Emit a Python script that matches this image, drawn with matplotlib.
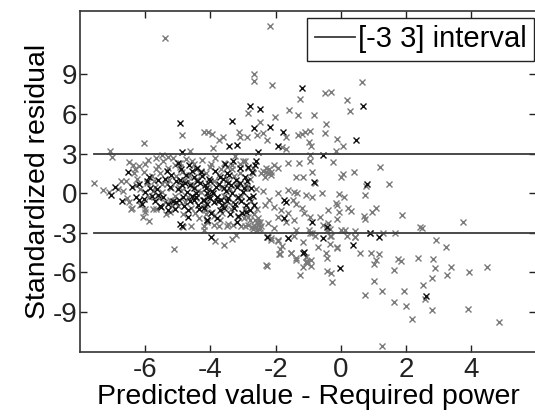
import matplotlib
matplotlib.use("Agg")
import matplotlib.pyplot as plt
import numpy as np

plt.rcParams["font.family"] = ["Liberation Sans", "DejaVu Sans"]
plt.rcParams["axes.unicode_minus"] = False

# residuals drawn in gray
gray_x = [
    -2.18, -5.41, -2.66, -2.66, -2.10, -0.49, -0.31, 0.64, -1.24, 0.19, 0.27, -2.85,
    -1.59, -1.32, -0.82, -2.01, -4.86, -2.49, -0.44, -0.47, -6.03, -2.56, -2.38, -2.25,
    -1.68, -1.32, -1.20, -1.09, -0.93, -0.97, -0.90, -4.19, -4.08, -3.94, -3.74, -3.61,
    -3.12, -3.09, -2.87, -1.81, -1.67, -3.92, -4.64, -7.09, -7.03, -7.57,
    # around zero
    -0.10, 0.06, -0.15, -0.25, 1.21, 0.08, 0.01, 0.41, 1.47, 0.76, -0.04, 0.11,
    -0.14, -0.12, -0.40, -0.04, 0.23, 0.33, 1.09, 0.95, 0.73, 0.76, 1.87, -0.12,
    -0.40, 0.00, 0.14, -0.31, 0.18, 2.43, 3.76, 0.78, -0.32, 0.43, 2.49,
    -2.94, -2.86, -2.04, -1.94, -2.14, -1.63, -1.28, -0.93, -0.93, -1.38, -1.15, -0.88,
    -0.78, -1.63, -1.43, -1.33, -1.94, -1.48, -1.38, -1.08, -0.88, -0.58, -2.19, -2.34,
    -2.04, -1.83, -1.63, -1.94, -1.68, -1.43, -2.54, -2.74, -2.49, -2.24, -2.04, -1.18,
    -1.13, -0.93, -0.63, -0.53, -0.43, -1.38, -0.98, -0.93, -0.80,
    # below -3
    1.67, 1.29, 0.90, 0.45, 0.59, 0.93, 1.18, 1.07, 1.02, 1.75, 1.84, 1.65,
    2.37, 2.94, 3.23, 2.82, 2.89, 3.40, 3.27, 3.94, 4.48, 2.80, 2.54, 1.03,
    1.28, 0.74, 1.95, 1.63, 1.99, 2.58, 2.81, 3.92, 2.18, 4.87, 1.26,
    -2.27, -1.25, -1.16, -1.04, -0.91, -0.92, -1.08, -1.04, -1.38, -1.53, -1.90, -1.87,
    -1.79, -1.94, -2.14, -0.44, -0.41, -0.42, -0.29, -0.28, -0.10, -0.34, -0.69,
    -2.24, -2.14, -1.94, -1.63, -1.43, -1.15, -0.88, -0.32, -0.10, 0.43, -1.88, -1.53,
    -1.38, -1.08, -2.29,
    -5.12, -3.85, -3.59, -3.34, -3.23, -4.21, -4.85,
    # dense block on the left
    -7.29, -7.12, -6.49, -6.39, -6.32, -6.21, -6.00, -5.66, -5.61, -6.45, -6.02, -5.76,
    -5.66, -6.06, -5.88, -6.42, -6.85, -6.70, -6.60, -6.30, -6.25, -6.15, -5.95, -5.90,
    -5.80, -5.70, -5.55, -5.50, -5.45, -5.40, -5.35, -5.30, -5.25, -5.20, -5.15, -5.10,
    -5.05, -5.00, -4.95, -4.90, -4.85, -4.80, -4.75, -4.70, -4.65, -4.60, -4.55, -4.50,
    -4.45, -4.40, -4.35, -4.30, -4.25, -4.20, -4.15, -4.10, -4.05, -4.00, -3.95, -3.90,
    -3.85, -3.80, -3.75, -3.70, -3.65, -3.60, -3.55, -3.50, -3.45, -3.40, -3.35, -3.30,
    -3.25, -3.20, -3.15, -3.10, -3.05, -3.00, -2.95, -2.90, -2.85, -2.80, -2.75, -2.70,
    -2.65, -2.60, -2.55, -2.60, -2.65, -2.50, -2.55, -2.45, -2.40, -2.30, -2.20, -2.15,
    -4.60, -4.20, -3.90, -3.75, -3.50, -3.30, -3.05, -2.95, -5.50, -5.30,
    -6.55, -6.35, -6.15, -6.05, -5.92, -5.78, -5.68, -5.58, -5.48, -5.38,
    -5.28, -5.18, -5.08, -4.98, -4.88, -4.78, -4.68, -4.58, -4.48, -4.38,
    -4.28, -4.18, -4.08, -3.98, -3.88, -3.78, -3.68, -3.58, -3.48, -3.38,
    -3.28, -3.18, -3.08, -2.98, -2.88, -2.78, -2.68, -2.58, -2.52, -2.48,
    -6.75, -6.50, -6.00, -5.75, -5.25, -4.95, -4.45, -4.15, -3.65, -3.35,
    -2.85, -2.62, -2.58, -2.70, -2.56, -2.44, -2.38, -2.32, -2.28, -2.22,
]
gray_y = [
    12.68, 11.72, 9.04, 8.46, 8.18, 7.55, 7.63, 8.38, 7.15, 7.07, 6.21, 6.06,
    6.31, 5.93, 5.88, 5.73, 4.44, 5.38, 5.25, 4.55, 3.79, 4.37, 4.57, 4.04,
    4.29, 4.44, 4.49, 4.60, 4.67, 3.89, 3.54, 4.60, 4.62, 4.47, 4.04, 4.29,
    4.62, 4.24, 4.29, 3.46, 3.36, 3.41, 3.16, 3.23, 2.73, 0.76,
    4.12, 3.58, 3.20, 2.35, 1.97, 1.46, 1.26, 1.64, 0.71, -0.13, -0.08, -0.26,
    -0.76, -0.93, -1.27, -1.39, -1.14, -1.32, -1.09, -1.39, -1.72, -1.97, -1.67, -1.97,
    -2.22, -2.77, -2.77, -3.24, -3.24, -2.58, -2.15, 0.51, -2.73, -2.83, -2.63,
    2.40, 1.89, 2.14, 1.89, 1.64, 2.31, 2.27, 2.90, 2.40, 1.26, 1.26, 1.64,
    0.76, 0.25, 0.12, 0.00, 0.05, -0.51, -0.81, -0.13, -0.26, 0.00, -0.51, -0.89,
    -1.06, -1.27, -1.52, -1.77, -2.15, -2.02, -2.15, -2.53, -2.65, -2.27, -2.65, -1.14,
    -1.52, -1.77, -1.77, -2.40, -2.77, -2.77, -2.77, -3.03, -3.23,
    -3.03, -3.03, -3.03, -3.33, -4.55, -4.55, -4.60, -5.05, -5.35, -5.00, -5.15, -5.81,
    -4.92, -3.54, -4.04, -5.00, -5.63, -5.56, -6.19, -5.93, -5.56, -6.39, -6.97, -6.62,
    -7.40, -7.73, -7.42, -8.23, -8.51, -7.98, -8.84, -8.79, -9.52, -9.75, -11.57,
    -5.48, -6.21, -5.56, -5.30, -5.48, -5.05, -4.80, -5.12, -4.92, -4.55, -4.62, -4.24,
    -3.99, -3.59, -3.54, -4.55, -4.92, -5.86, -6.06, -6.69, -4.17, -3.86, -4.04,
    -3.29, -3.41, -3.54, -3.41, -3.23, -3.67, -2.98, -3.23, -4.09, -3.29, -4.60, -4.55,
    -5.05, -5.18, -5.43,
    -4.19, -3.61, -3.91, -3.46, -3.16, -2.78, -2.53,
    0.25, 0.12, 2.39, 2.14, 1.82, 2.02, 2.20, 2.65, 2.02, -1.21, -1.39, -1.19,
    -1.19, -1.77, -2.08, -1.14, 0.35, 0.15, 0.90, 0.60, 1.10, 0.30, 0.80, -0.30,
    1.30, 0.50, 1.50, 0.10, 2.40, -0.70, 0.70, 1.90, -1.40, 0.40, 2.70, -0.20,
    1.30, -1.00, 2.00, 0.20, -1.60, 1.00, 2.60, -0.30, 1.40, -1.10, 0.60, 2.20,
    -0.40, 1.10, -1.90, 0.10, 2.50, -0.90, 1.50, -2.20, 0.30, 2.00, -1.40, 0.90,
    2.70, -0.30, 1.40, -2.00, 0.50, 2.30, -1.00, 1.00, -2.30, 0.30, 1.80, -0.70,
    2.80, 0.70, -1.80, 1.50, -0.20, 2.40, -1.20, 0.60, -2.40, 1.10, -0.60, 1.90,
    -1.60, 0.30, -2.40, -2.55, -2.45, -2.30, -1.90, 1.50, 1.70, 1.60, 1.80, 1.40,
    -2.50, -2.50, -2.40, -2.45, -2.45, -2.40, -2.45, -2.45, 2.90, 2.75,
    -0.40, 1.50, -0.90, 1.60, 2.50, 0.20, 1.80, -0.40, 0.70, -1.60,
    1.00, -0.90, 2.10, 0.50, 1.60, -0.70, 0.90, 2.40, -1.50, 0.20,
    1.70, -1.30, 0.80, 2.20, -1.70, 0.60, 1.80, -0.20, 2.00, -1.20,
    1.30, -0.40, 2.20, -1.90, 0.40, -2.00, 1.50, -1.20, -2.70, -2.20,
    0.90, -0.70, -1.20, 0.90, -0.50, 2.30, 1.80, -1.60, -1.50, 2.10,
    -1.80, -2.00, -2.20, -2.70, -2.80, -2.50, 0.20, 1.20, 1.90, 1.50,
]

# residuals drawn in black
black_x = [
    -1.19, 0.67, -2.78, -2.49, -3.33, -4.93, -2.17, -2.66, -1.76, -1.94, -3.43, -3.18,
    -4.89, -0.54, 0.48, 0.81, -0.43, 0.90, 1.18, 0.38, -2.54, -2.64, -0.83, -1.73,
    -1.68, -1.73, -0.88, 2.61, -1.14, -1.63, -2.25, -0.54, -0.03, -3.98, -4.10, -4.93,
    -1.15,
    -7.07, -6.72, -6.92, -6.52, -5.51, -6.30, -6.20, -6.05, -6.00, -5.85, -5.70, -5.60,
    -5.45, -5.35, -5.25, -5.15, -5.05, -4.98, -4.92, -4.88, -4.82, -4.76, -4.72, -4.66,
    -4.62, -4.56, -4.50, -4.46, -4.40, -4.36, -4.30, -4.24, -4.18, -4.12, -4.06, -4.00,
    -3.96, -3.90, -3.84, -3.78, -3.72, -3.66, -3.60, -3.55, -3.50, -3.45, -3.40, -3.35,
    -3.30, -3.25, -3.20, -3.15, -3.10, -3.05, -3.00, -2.95, -2.90, -2.85, -2.80, -2.75,
    -2.70, -2.60, -4.88, -5.05, -4.50, -4.20, -4.10, -3.70,
    -6.40, -6.10, -5.95, -5.80, -5.65, -5.55, -5.40, -5.30, -5.20, -5.10,
    -5.00, -4.95, -4.85, -4.78, -4.70, -4.64, -4.58, -4.52, -4.44, -4.38,
    -4.32, -4.26, -4.20, -4.14, -4.08, -4.02, -3.98, -3.92, -3.86, -3.80,
    -3.74, -3.68, -3.62, -3.58, -3.52, -3.46, -3.42, -3.36, -3.28, -3.22,
    -3.16, -3.08, -3.02, -2.96, -2.88, -2.82, -2.72, -2.66, -6.20, -5.90,
    -5.60, -5.30, -5.00, -4.70, -4.40, -4.10, -3.80, -3.50, -3.20, -2.90,
]
black_y = [
    7.95, 6.62, 6.62, 6.36, 5.48, 5.30, 5.00, 4.92, 4.65, 3.54, 3.59, 3.64,
    3.11, 2.88, 4.03, 0.68, -2.53, -3.03, -3.28, -3.91, 3.08, 2.14, 0.88, -0.51,
    -0.63, -1.89, -2.15, -7.78, -4.42, -3.41, -3.33, -3.38, -5.68, -3.31, -2.02, -2.32,
    -4.50,
    -0.13, -0.56, 0.50, 1.64, -1.06, -0.30, -0.55, -0.45, 0.10, 0.40, -0.60, 1.00,
    -0.30, 1.70, 0.50, -0.60, 0.90, -0.50, 1.80, 0.60, -1.00, 1.40, 0.10, 2.10,
    -0.60, 1.70, 0.40, -0.30, 0.90, -1.20, 1.60, -0.50, 0.60, -0.80, 1.10, -0.40,
    0.20, -0.70, 0.50, -0.60, 1.20, -0.90, 0.40, 2.20, -0.60, 0.80, -1.60, 0.00,
    2.40, -0.80, 0.50, -1.70, 1.90, -0.60, 0.10, 1.20, -0.90, 2.00, -1.30, 0.40,
    -0.20, 2.40, -2.45, -0.70, -0.55, -0.55, -2.00, -1.30,
    0.50, -0.80, 0.90, -0.20, 0.30, -1.00, 1.10, -0.80, 1.40, -1.20,
    0.30, 1.00, -0.30, 0.80, -1.30, 0.60, -0.20, 1.20, 0.00, -0.90,
    0.80, 1.30, -1.10, 0.40, -0.30, 0.90, -1.50, 0.00, 1.70, -0.30,
    0.70, -0.50, 1.10, -1.10, 0.20, -0.40, 1.40, 0.60, -1.10, 1.00,
    -0.30, 0.80, -1.50, 0.40, 0.90, -0.40, 1.60, -0.90, 0.70, 1.20,
    -0.10, -1.30, 2.30, -1.80, 1.90, 0.00, -1.90, 1.50, -2.20, -1.40,
]

band = [-3, 3]
x_min, x_max = -8, 6
y_min, y_max = -12.05, 13.8

fig = plt.figure(figsize=(5.35, 4.18), dpi=100)
ax = fig.add_axes([0.150, 0.157, 0.852, 0.817])

ax.plot(gray_x, gray_y, "x", color="#7a7a7a", markersize=4.8, markeredgewidth=1.0,
        linestyle="none")
ax.plot(black_x, black_y, "x", color="#111111", markersize=4.8, markeredgewidth=1.0,
        linestyle="none")

lo = min(min(gray_x), min(black_x))
for k, b in enumerate(band):
    ax.plot([lo, x_max], [b, b], color="#3a3a3a", linewidth=1.3,
            label="[-3 3] interval" if k == 0 else None)

ax.set_xlim(x_min, x_max)
ax.set_ylim(y_min, y_max)
ax.set_xticks([-6, -4, -2, 0, 2, 4])
ax.set_yticks([-9, -6, -3, 0, 3, 6, 9])
ax.tick_params(direction="in", length=5, width=1, top=True, right=True,
               labelsize=20, colors="#222222")
ax.tick_params(axis="x", pad=3)
ax.tick_params(axis="y", pad=2)
for sp in ax.spines.values():
    sp.set_color("#333333")
    sp.set_linewidth(1.2)

ax.set_xlabel("Predicted value - Required power", fontsize=20.5, labelpad=1)
ax.set_ylabel("Standardized residual", fontsize=20.5, labelpad=1)

leg = ax.legend(loc="upper right", bbox_to_anchor=(0.995, 0.979), fontsize=21,
                handlelength=1.38, handletextpad=0.1, borderpad=0.25,
                borderaxespad=0.0, fancybox=False, framealpha=1)
leg.get_frame().set_edgecolor("#222222")
leg.get_frame().set_linewidth(1.0)

fig.savefig("out.png", dpi=100)
